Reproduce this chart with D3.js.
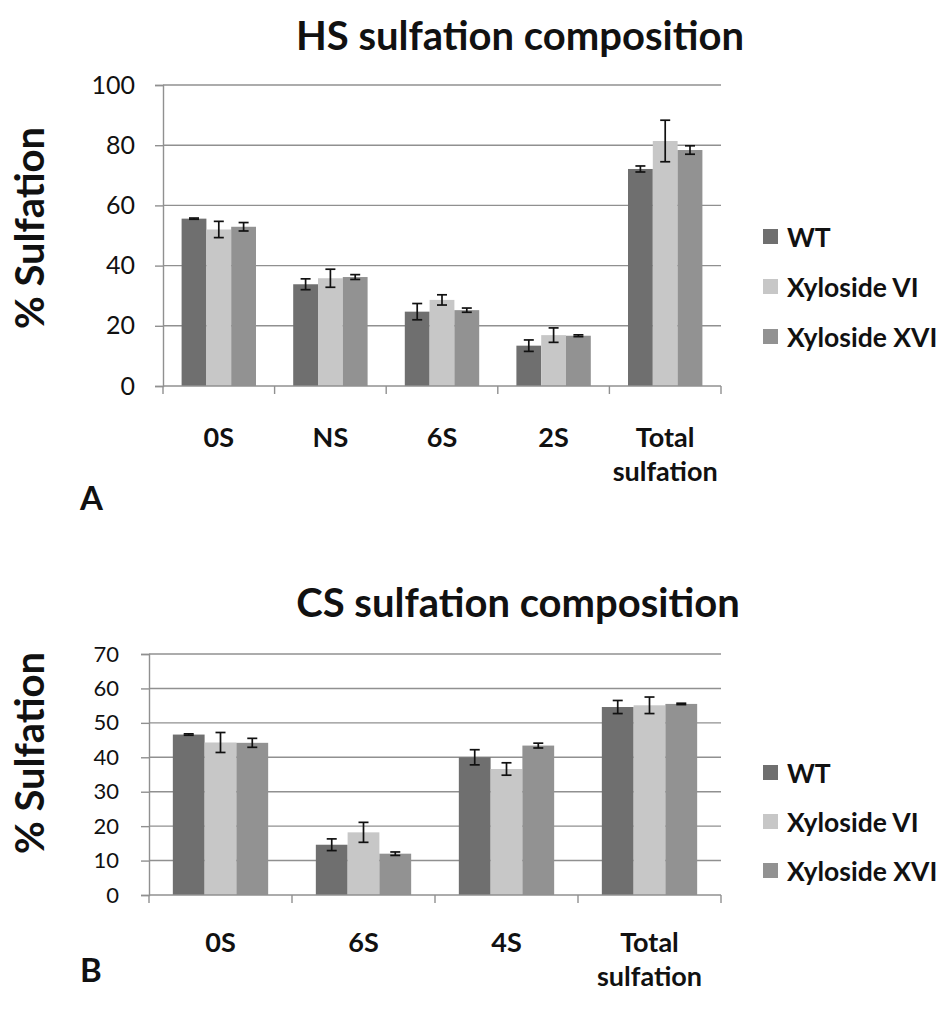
<!DOCTYPE html>
<html>
<head>
<meta charset="utf-8">
<script src="https://cdn.jsdelivr.net/npm/d3@7"></script>
<style>
  html, body { margin: 0; padding: 0; background: #ffffff; }
  svg { display: block; }
  text { font-family: Lato, "Open Sans", "DejaVu Sans", sans-serif; }
</style>
</head>
<body>
<svg id="chart" width="945" height="1010"></svg>
<script>
// ---------- data ----------
const seriesNames = ["WT", "Xyloside VI", "Xyloside XVI"];
const seriesColors = ["#6f6f6f", "#c7c7c7", "#929292"];

const hsCategories = ["0S", "NS", "6S", "2S", "Total sulfation"];
const hsWT      = [55.6, 33.8, 24.7, 13.4, 72.1];
const hsWTErr   = [0.2, 1.8, 2.7, 1.9, 1.0];
const hsVI      = [52.0, 35.8, 28.6, 16.9, 81.4];
const hsVIErr   = [2.7, 3.0, 1.7, 2.4, 6.9];
const hsXVI     = [52.9, 36.2, 25.2, 16.7, 78.4];
const hsXVIErr  = [1.4, 0.8, 0.7, 0.3, 1.4];
const hsTicks   = [0, 20, 40, 60, 80, 100];

const csCategories = ["0S", "6S", "4S", "Total sulfation"];
const csWT      = [46.6, 14.6, 40.0, 54.6];
const csWTErr   = [0.2, 1.7, 2.2, 1.9];
const csVI      = [44.3, 18.2, 36.6, 55.1];
const csVIErr   = [2.9, 2.9, 1.8, 2.4];
const csXVI     = [44.2, 12.0, 43.4, 55.5];
const csXVIErr  = [1.3, 0.5, 0.7, 0.2];
const csTicks   = [0, 10, 20, 30, 40, 50, 60, 70];

const svg = d3.select("#chart");

function drawPanel(cfg) {
  const g = svg.append("g");
  const x0 = d3.scaleBand().domain(cfg.categories).range([cfg.left, cfg.right]).paddingInner(0).paddingOuter(0);
  const x1 = d3.scaleBand().domain(seriesNames).range([0, x0.bandwidth()]).paddingInner(0).paddingOuter(0.75);
  const y = d3.scaleLinear().domain([0, cfg.max]).range([cfg.bottom, cfg.top]);

  // gridlines
  g.append("g").selectAll("line").data(cfg.ticks.filter(t => t > 0)).join("line")
    .attr("x1", cfg.left).attr("x2", cfg.right)
    .attr("y1", d => y(d)).attr("y2", d => y(d))
    .attr("stroke", "#909090").attr("stroke-width", 1.4);

  // y axis
  const yAxis = d3.axisLeft(y).tickValues(cfg.ticks).tickSize(8).tickPadding(cfg.tickPad);
  const ya = g.append("g").attr("transform", `translate(${cfg.left},0)`).call(yAxis);
  ya.select(".domain").attr("stroke", "#909090").attr("stroke-width", 1.4);
  ya.selectAll(".tick line").attr("stroke", "#909090").attr("stroke-width", 1.4);
  ya.selectAll(".tick text").attr("font-size", cfg.tickFont).attr("fill", "#111")
    .style("font-family", "Lato, sans-serif");

  // bars
  const series = [
    {name: seriesNames[0], vals: cfg.wt, errs: cfg.wtErr, color: seriesColors[0]},
    {name: seriesNames[1], vals: cfg.vi, errs: cfg.viErr, color: seriesColors[1]},
    {name: seriesNames[2], vals: cfg.xvi, errs: cfg.xviErr, color: seriesColors[2]}
  ];
  const rows = [];
  cfg.categories.forEach((c, i) => series.forEach(s => rows.push({cat: c, name: s.name, v: s.vals[i], e: s.errs[i], color: s.color})));

  g.append("g").selectAll("rect").data(rows).join("rect")
    .attr("x", d => x0(d.cat) + x1(d.name))
    .attr("width", x1.bandwidth())
    .attr("y", d => y(d.v))
    .attr("height", d => y(0) - y(d.v))
    .attr("fill", d => d.color);

  // x axis (category boundary ticks)
  const xa = g.append("g");
  xa.append("line").attr("x1", cfg.left).attr("x2", cfg.right).attr("y1", y(0)).attr("y2", y(0))
    .attr("stroke", "#909090").attr("stroke-width", 1.4);
  const bounds = cfg.categories.map(c => x0(c)).concat([cfg.right]);
  xa.selectAll("line.tk").data(bounds).join("line").attr("class", "tk")
    .attr("x1", d => d).attr("x2", d => d).attr("y1", y(0)).attr("y2", y(0) + 8)
    .attr("stroke", "#909090").attr("stroke-width", 1.4);

  // error bars
  const eb = g.append("g").attr("stroke", "#111").attr("stroke-width", 1.7);
  rows.forEach(d => {
    const cx = x0(d.cat) + x1(d.name) + x1.bandwidth() / 2;
    const yt = y(d.v + d.e), yb = y(d.v - d.e);
    eb.append("line").attr("x1", cx).attr("x2", cx).attr("y1", yt).attr("y2", yb);
    eb.append("line").attr("x1", cx - 5).attr("x2", cx + 5).attr("y1", yt).attr("y2", yt);
    eb.append("line").attr("x1", cx - 5).attr("x2", cx + 5).attr("y1", yb).attr("y2", yb);
  });

  // category labels
  const cl = g.append("g");
  cfg.categories.forEach(c => {
    const words = c === "Total sulfation" ? ["Total", "sulfation"] : [c];
    const t = cl.append("text").attr("x", x0(c) + x0.bandwidth() / 2).attr("y", cfg.catY)
      .attr("text-anchor", "middle").attr("font-size", 27).attr("font-weight", "bold").attr("fill", "#111");
    words.forEach((w, i) => t.append("tspan").attr("x", x0(c) + x0.bandwidth() / 2).attr("dy", i === 0 ? 0 : 34).text(w));
  });

  // title
  g.append("text").attr("x", cfg.titleX).attr("y", cfg.titleY).attr("text-anchor", "middle")
    .attr("font-size", 40).attr("font-weight", "bold").attr("fill", "#111").text(cfg.title);

  // y label
  g.append("text").attr("transform", `translate(${cfg.ylabX},${cfg.ylabY}) rotate(-90)`)
    .attr("text-anchor", "middle").attr("font-size", 40).attr("font-weight", "bold").attr("fill", "#111")
    .text("% Sulfation");

  // panel letter
  g.append("text").attr("x", 80).attr("y", cfg.letterY).attr("font-size", 33).attr("font-weight", "bold")
    .attr("fill", "#111").text(cfg.letter);

  // legend
  const lg = g.append("g");
  seriesNames.forEach((n, i) => {
    const yy = cfg.legendY + i * cfg.legendStep;
    lg.append("rect").attr("x", 763).attr("y", yy - 8).attr("width", 15).attr("height", 15).attr("fill", seriesColors[i]);
    lg.append("text").attr("x", 787).attr("y", yy).attr("dy", "0.36em").attr("font-size", 26.5)
      .attr("font-weight", "bold").attr("fill", "#111").text(n);
  });
}

drawPanel({
  categories: hsCategories, wt: hsWT, wtErr: hsWTErr, vi: hsVI, viErr: hsVIErr, xvi: hsXVI, xviErr: hsXVIErr,
  ticks: hsTicks, max: 100, left: 163, right: 721, top: 85, bottom: 386,
  tickFont: 25, tickPad: 20, catY: 447, title: "HS sulfation composition", titleX: 520, titleY: 50,
  ylabX: 44, ylabY: 228, letter: "A", letterY: 510, legendY: 237, legendStep: 50
});

drawPanel({
  categories: csCategories, wt: csWT, wtErr: csWTErr, vi: csVI, viErr: csVIErr, xvi: csXVI, xviErr: csXVIErr,
  ticks: csTicks, max: 70, left: 149, right: 721, top: 654, bottom: 895,
  tickFont: 22, tickPad: 22, catY: 952, title: "CS sulfation composition", titleX: 518, titleY: 617,
  ylabX: 44, ylabY: 753, letter: "B", letterY: 982, legendY: 773, legendStep: 49
});
</script>
</body>
</html>
